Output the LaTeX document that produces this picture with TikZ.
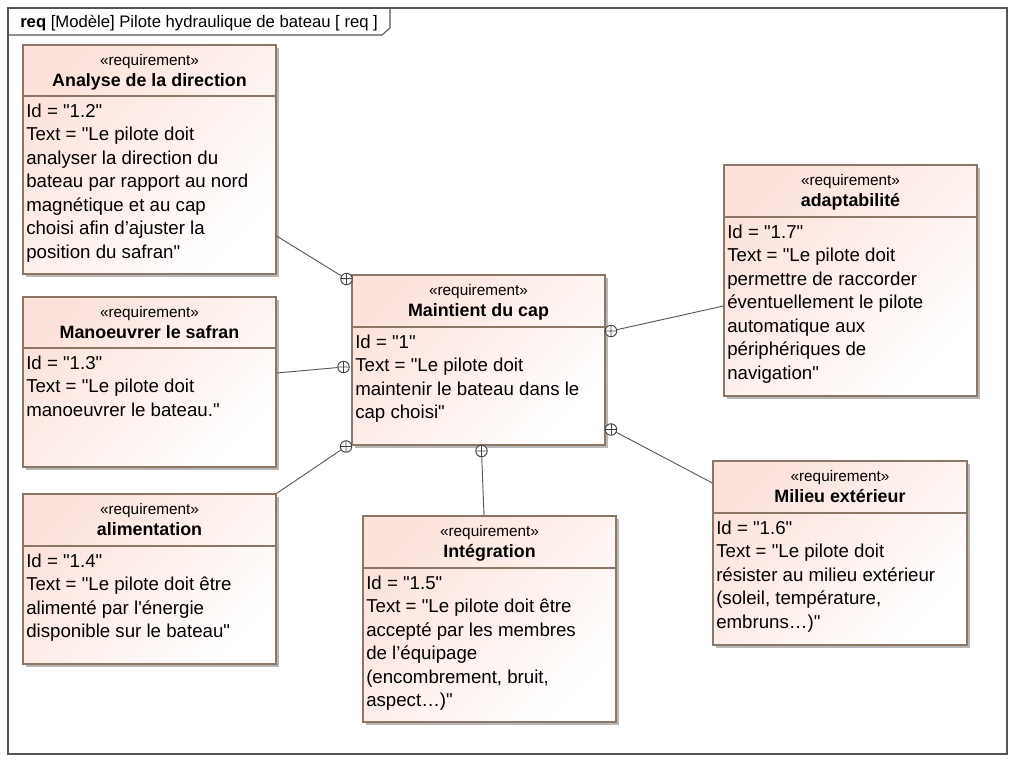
\documentclass[tikz,border=0pt]{standalone}
\usepackage{fontspec}
\setmainfont{Liberation Sans}[Ligatures=TeXOff]
\usetikzlibrary{calc,shadows}

\definecolor{reqpink}{RGB}{252,226,219}
\definecolor{reqedge}{RGB}{140,118,102}
\definecolor{framegray}{RGB}{85,85,85}

\tikzset{
  reqbox/.style={draw=reqedge, line width=0.9pt, inner sep=0pt,
    top color=reqpink, bottom color=white, shading angle=45,
    drop shadow={shadow xshift=2.2pt, shadow yshift=-2.2pt, fill=black!40, opacity=0.7}},
  stereo/.style={anchor=base, inner sep=0pt, font=\fontsize{11.5}{13}\selectfont},
  reqname/.style={anchor=base, inner sep=0pt, font=\fontsize{13.4}{16}\selectfont\bfseries},
  reqtext/.style={anchor=north west, inner sep=0pt, align=left,
    font=\fontsize{14}{17.6}\selectfont},
  contain/.style={circle, draw=black!75, fill=white, line width=0.7pt,
    minimum size=8.6pt, inner sep=0pt,
    path picture={\draw[black!75, line width=0.7pt]
      (path picture bounding box.north) -- (path picture bounding box.south)
      (path picture bounding box.west) -- (path picture bounding box.east);}},
  link/.style={draw=black!65, line width=0.7pt}
}

% name, x1, y1, x2, y2, divider, title, text
\newcommand{\reqbox}[8]{%
  \node[reqbox, minimum width={(#4-#2)*0.75pt}, minimum height={(#5-#3)*0.75pt}]
    (#1) at ({(#2+#4)/2},{(#3+#5)/2}) {};
  \draw[reqedge, line width=0.9pt] (#1.west |- 0,#6) -- (#1.east |- 0,#6);
  \node[stereo] (#1-st) at ({(#2+#4)/2},#3+20) {«requirement»};
  \node[reqname] (#1-nm) at ({(#2+#4)/2},#3+41) {#7};
  \node[reqtext] (#1-tx) at (#2+3,#6+7.5) {#8};
}

\begin{document}
\begin{tikzpicture}[x=0.75pt,y=-0.75pt]
  \useasboundingbox (0,0) rectangle (1016,761);
  \draw[framegray, line width=1pt] (8,8) rectangle (1007,754);
  \draw[framegray, line width=0.8pt] (8,35) -- (382,35) -- (390,28) -- (390,8);
  \node[anchor=base west, inner sep=0pt, font=\fontsize{12.5}{15}\selectfont] (ttl) at (20,27)
    {\textbf{req} [Modèle] Pilote hydraulique de bateau [ req ]};

  \reqbox{ana}{23}{45}{276}{274}{96}{Analyse de la direction}
    {Id = "1.2"\\Text = "Le pilote doit\\analyser la direction du\\bateau par rapport au nord\\magnétique et au cap\\choisi afin d’ajuster la\\position du safran"}
  \reqbox{man}{23}{297}{276}{467}{348}{Manoeuvrer le safran}
    {Id = "1.3"\\Text = "Le pilote doit\\manoeuvrer le bateau."}
  \reqbox{ali}{23}{494}{276}{664}{546}{alimentation}
    {Id = "1.4"\\Text = "Le pilote doit être\\alimenté par l'énergie\\disponible sur le bateau"}
  \reqbox{cap}{352}{275}{605}{445}{327}{Maintient du cap}
    {Id = "1"\\Text = "Le pilote doit\\maintenir le bateau dans le\\cap choisi"}
  \reqbox{ada}{724}{165}{977}{396}{217}{adaptabilité}
    {Id = "1.7"\\Text = "Le pilote doit\\permettre de raccorder\\éventuellement le pilote\\automatique aux\\périphériques de\\navigation"}
  \reqbox{int}{363}{516}{616}{722}{568}{Intégration}
    {Id = "1.5"\\Text = "Le pilote doit être\\accepté par les membres\\de l’équipage\\(encombrement, bruit,\\aspect…)"}
  \reqbox{mil}{713}{461}{967}{645}{513}{Milieu extérieur}
    {Id = "1.6"\\Text = "Le pilote doit\\résister au milieu extérieur\\(soleil, température,\\embruns…)"}

  \node[contain, rotate=-31] (cap-ana) at (346.5,279) {};
  \node[contain, rotate=5]   (cap-man) at (343.5,367) {};
  \node[contain, rotate=34]  (cap-ali) at (346,446.5) {};
  \node[contain, rotate=2]   (cap-int) at (481.5,451) {};
  \node[contain, rotate=-28] (cap-mil) at (611,429.5) {};
  \node[contain, rotate=12]  (cap-ada) at (611,331) {};

  \path[link] (ana.east |- 0,236) edge (cap-ana);
  \path[link] (man.east |- 0,373) edge (cap-man);
  \path[link] (ali.north east) edge (cap-ali);
  \path[link] (int.north west -| 484,0) edge (cap-int);
  \path[link] (mil.west |- 0,483) edge (cap-mil);
  \path[link] (ada.west |- 0,306) edge (cap-ada);
\end{tikzpicture}
\end{document}
